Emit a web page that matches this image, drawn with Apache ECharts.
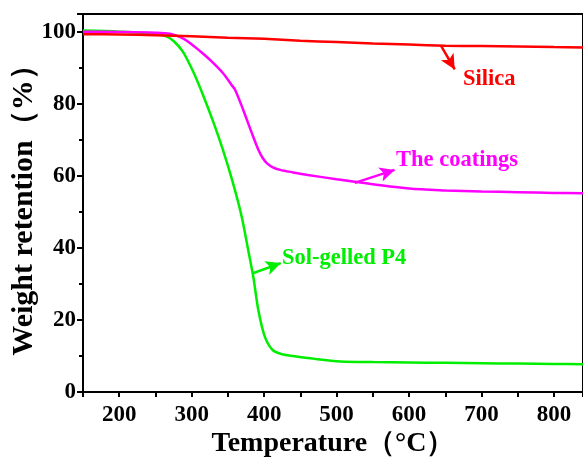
<!DOCTYPE html>
<html><head><meta charset="utf-8">
<script src="https://cdn.jsdelivr.net/npm/echarts@6/dist/echarts.min.js"></script>
<style>html,body{margin:0;padding:0;background:#fff}#c{width:583px;height:463px}</style>
</head><body><div id="c"></div>
<script>
const silicaT = [150,200,250,300,350,400,450,500,550,600,650,700,750,800,840];
const silicaW = [99.4,99.3,99.1,98.8,98.4,98.1,97.6,97.2,96.8,96.5,96.2,96.1,96.0,95.8,95.7];
const coatT = [150,200,250,270,285,298,312,325,343,355,360,371,383,392,398,404,412,422,440,460,500,525,550,600,650,700,750,800,840];
const coatW = [100.1,100.0,99.8,99.5,98.5,96.9,94.6,92.3,88.6,85.3,83.9,78.4,71.9,67.3,65.0,63.5,62.4,61.7,61.0,60.3,59.1,58.4,57.7,56.5,56.0,55.7,55.5,55.3,55.2];
const p4T = [150,200,250,265,275,288,302,316,330,343,357,369,378,385,392,401,412,425,440,470,505,550,600,650,700,750,800,840];
const p4W = [100.4,100.1,99.5,98.8,97.5,94.5,89.0,82.3,74.9,67.3,58.0,48.7,39.4,32.0,22.7,15.3,11.6,10.5,10.0,9.2,8.5,8.3,8.2,8.1,8.0,7.9,7.8,7.7];
const xTickLabels = [200,300,400,500,600,700,800];
const yTickLabels = [0,20,40,60,80,100];

// annotations: [label, text anchor (T, W), arrow tail, arrow tip]
const silicaNote = ['Silica', [674.5, 87.0], [644, 96.2], [663, 89.6]];
const coatNote = ['The coatings', [582, 64.5], [525, 58.1], [580, 61.7]];
const p4Note = ['Sol-gelled P4', [424.5, 37.2], [384.5, 33.0], [423, 35.8]];

const FONT = '"Liberation Serif","Times New Roman",serif';
function zip(a,b){return a.map((v,i)=>[v,b[i]]);}
function mkSeries(name, T, W, color, note){
  return {
    name, type:'line', data: zip(T,W), showSymbol:false, smooth:0.3,
    lineStyle:{color, width:2.5}, itemStyle:{color}, z:3,
    markLine:{silent:true, symbol:['none','arrow'], symbolSize:[11,15],
      lineStyle:{color, width:2.5, type:'solid'}, label:{show:false},
      data:[[{coord:note[2]},{coord:note[3]}]]},
    markPoint:{silent:true, symbol:'circle', symbolSize:0,
      data:[{coord:note[1]}],
      label:{show:true, position:'right', distance:0, formatter:note[0], color,
        fontFamily:FONT, fontWeight:'bold', fontSize:22.5}}
  };
}
const chart = echarts.init(document.getElementById('c'), null, {renderer:'canvas'});
chart.setOption({
  animation:false,
  backgroundColor:'#fff',
  grid:{left:83, top:14, right:0, bottom:71, show:true, borderColor:'#000', borderWidth:2,
    containLabel:false, outerBoundsMode:'none'},
  xAxis:{type:'value', min:150, max:840, interval:50,
    name:'Temperature（°C）', nameLocation:'middle', nameGap:38, nameMoveOverlap:false,
    nameTextStyle:{fontFamily:FONT, fontWeight:'bold', fontSize:28, color:'#000'},
    axisLine:{lineStyle:{color:'#000', width:2}},
    axisTick:{inside:false, length:5, lineStyle:{color:'#000', width:2}},
    axisLabel:{margin:12, fontFamily:FONT, fontWeight:'bold', fontSize:23, color:'#000',
      formatter:v=> xTickLabels.includes(v) ? String(v) : ''},
    splitLine:{show:false}},
  yAxis:{type:'value', min:0, max:105, interval:20,
    name:'Weight retention（%）', nameLocation:'middle', nameGap:44, nameMoveOverlap:false,
    nameTextStyle:{fontFamily:FONT, fontWeight:'bold', fontSize:30, color:'#000', align:'center'},
    axisLine:{lineStyle:{color:'#000', width:2}},
    axisTick:{inside:false, length:6, lineStyle:{color:'#000', width:2}},
    minorTick:{show:true, splitNumber:2, length:4, lineStyle:{color:'#000', width:2}},
    axisLabel:{margin:7, fontFamily:FONT, fontWeight:'bold', fontSize:23, color:'#000',
      formatter:v=> yTickLabels.includes(v) ? String(v) : ''},
    splitLine:{show:false}},
  series:[
    mkSeries('Sol-gelled P4', p4T, p4W, '#00ee00', p4Note),
    mkSeries('The coatings', coatT, coatW, '#ff00ff', coatNote),
    mkSeries('Silica', silicaT, silicaW, '#ff0000', silicaNote)
  ]
});
</script></body></html>
